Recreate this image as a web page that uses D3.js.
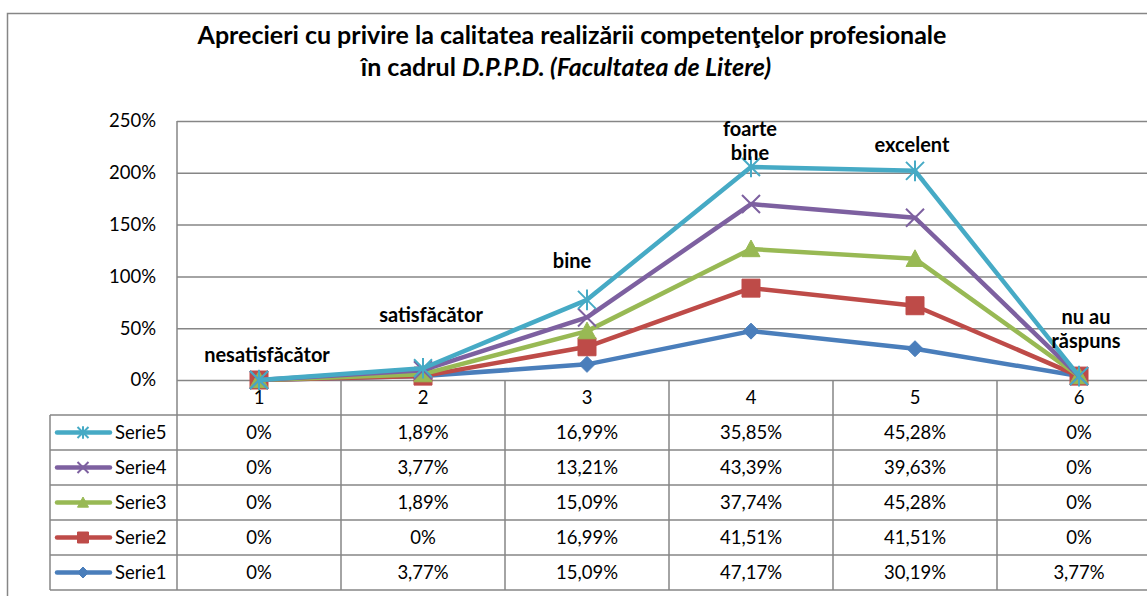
<!DOCTYPE html>
<html lang="ro">
<head>
<meta charset="UTF-8">
<title>Aprecieri cu privire la calitatea realizării competenţelor profesionale</title>
<script src="https://cdn.jsdelivr.net/npm/d3@7"></script>
<style>
    body { margin: 0; background: #fff; }
    svg { display: block; font-family: Lato, "Open Sans", sans-serif; }
    .title { font-size: 25px; font-weight: bold; }
    .tick text { font-size: 18.5px; fill: #000; }
    .cell { font-size: 18.5px; }
    .dlabel { font-size: 20px; font-weight: bold; }
</style>
</head>
<body>
<svg width="1147" height="596"></svg>
<script>
    // categories and data (percent)
    const categories = ["1", "2", "3", "4", "5", "6"];
    const labels = [["nesatisfăcător"], ["satisfăcător"], ["bine"], ["foarte", "bine"], ["excelent"], ["nu au", "răspuns"]];
    const serie1 = [0, 3.77, 15.09, 47.17, 30.19, 3.77];
    const serie2 = [0, 0, 16.99, 41.51, 41.51, 0];
    const serie3 = [0, 1.89, 15.09, 37.74, 45.28, 0];
    const serie4 = [0, 3.77, 13.21, 43.39, 39.63, 0];
    const serie5 = [0, 1.89, 16.99, 35.85, 45.28, 0];
    const seriesNames = ["Serie1", "Serie2", "Serie3", "Serie4", "Serie5"];
    const yTicks = [0, 50, 100, 150, 200, 250];

    const seriesValues = [serie1, serie2, serie3, serie4, serie5];
    const colors = ["#4a7ebb", "#be4b48", "#98b954", "#7d60a0", "#46aac5"];
    const markers = ["diamond", "square", "triangle", "x", "star"];

    // manual placement of the category labels (offsets from top point, last line baseline)
    const labelDx = [8, 8, -15, -1, -3, 7];
    const labelDy = [-18, -46, -32, -7, -19, -28];

    const svg = d3.select("svg");

    const x = d3.scaleBand().domain(categories).range([177, 1161]);
    const y = d3.scaleLinear().domain([0, 250]).range([380, 121]);
    const grid = "#868686";

    // outer chart border
    svg.append("rect").attr("x", 7.5).attr("y", 13.5).attr("width", 1200).attr("height", 700)
        .attr("fill", "none").attr("stroke", grid).attr("stroke-width", 1.5);

    // title
    const title = svg.append("text").attr("class", "title").attr("text-anchor", "middle");
    title.append("tspan").attr("x", 572).attr("y", 44)
        .text("Aprecieri cu privire la calitatea realizării competenţelor profesionale");
    const t2 = title.append("tspan").attr("x", 566).attr("y", 76);
    t2.append("tspan").text("în cadrul ");
    t2.append("tspan").attr("font-style", "italic").text("D.P.P.D. (Facultatea de Litere)");

    // gridlines + y axis
    const yAxis = svg.append("g").attr("transform", "translate(177,0)")
        .call(d3.axisLeft(y).tickValues(yTicks).tickSize(-1000).tickPadding(21)
            .tickFormat(d => d + "%"));
    yAxis.select(".domain").remove();
    yAxis.selectAll(".tick line").attr("stroke", grid).attr("stroke-width", 1.5);
    yAxis.selectAll(".tick text").attr("font-family", "Lato, sans-serif");
    svg.append("line").attr("x1", 177).attr("x2", 177).attr("y1", 121).attr("y2", 590)
        .attr("stroke", grid).attr("stroke-width", 1.5);

    // data table
    const rowH = 35;
    const tableTop = 415;
    const rowsTop = seriesNames.slice().reverse();
    const table = svg.append("g");
    // vertical lines at category boundaries
    categories.forEach(c => {
        table.append("line").attr("x1", x(c) + x.bandwidth()).attr("x2", x(c) + x.bandwidth())
            .attr("y1", 380).attr("y2", tableTop + rowH * 5)
            .attr("stroke", grid).attr("stroke-width", 1.5);
    });
    table.append("line").attr("x1", 50).attr("x2", 50).attr("y1", tableTop).attr("y2", tableTop + rowH * 5)
        .attr("stroke", grid).attr("stroke-width", 1.5);
    d3.range(6).forEach(i => {
        table.append("line").attr("x1", 50).attr("x2", 1161)
            .attr("y1", tableTop + i * rowH).attr("y2", tableTop + i * rowH)
            .attr("stroke", grid).attr("stroke-width", 1.5);
    });
    // category row
    table.selectAll("text.cat").data(categories).join("text").attr("class", "cell cat")
        .attr("x", d => x(d) + x.bandwidth() / 2).attr("y", 404).attr("text-anchor", "middle")
        .text(d => d);

    const fmt = v => v === 0 ? "0%" : v.toFixed(2).replace(".", ",") + "%";

    function markerPath(type, s) {
        const h = s / 2;
        if (type === "diamond") return `M0,${-h}L${h},0L0,${h}L${-h},0Z`;
        if (type === "square") return `M${-h},${-h}H${h}V${h}H${-h}Z`;
        if (type === "triangle") return `M0,${-h}L${h},${h * 0.85}L${-h},${h * 0.85}Z`;
        if (type === "x") return `M${-h},${-h}L${h},${h}M${h},${-h}L${-h},${h}`;
        return `M${-h},${-h}L${h},${h}M${h},${-h}L${-h},${h}M0,${-h * 1.15}V${h * 1.15}`;
    }
    function drawMarker(g, type, color, s) {
        const filled = type !== "x" && type !== "star";
        g.append("path").attr("d", markerPath(type, s))
            .attr("fill", filled ? color : "none")
            .attr("stroke", color).attr("stroke-width", filled ? 1 : 2);
    }

    rowsTop.forEach((name, r) => {
        const si = seriesNames.indexOf(name);
        const cy = tableTop + r * rowH + rowH / 2;
        table.append("line").attr("x1", 57).attr("x2", 110).attr("y1", cy).attr("y2", cy)
            .attr("stroke", colors[si]).attr("stroke-width", 4.5).attr("stroke-linecap", "round");
        drawMarker(table.append("g").attr("transform", `translate(83,${cy})`), markers[si], colors[si], 11);
        table.append("text").attr("class", "cell").attr("x", 115).attr("y", cy + 6.5).text(name);
        categories.forEach((c, j) => {
            table.append("text").attr("class", "cell").attr("text-anchor", "middle")
                .attr("x", x(c) + x.bandwidth() / 2).attr("y", cy + 6.5)
                .text(fmt(seriesValues[si][j]));
        });
    });

    // stacked lines
    const rows = categories.map((c, j) => {
        const o = { cat: c };
        seriesNames.forEach((n, i) => o[n] = seriesValues[i][j]);
        return o;
    });
    const stacked = d3.stack().keys(seriesNames)(rows);
    const line = d3.line().x((d, j) => x(categories[j]) + x.bandwidth() / 2).y(d => y(d[1]));

    stacked.forEach((s, i) => {
        svg.append("path").datum(s).attr("d", line).attr("fill", "none")
            .attr("stroke", colors[i]).attr("stroke-width", 4.5).attr("stroke-linejoin", "round");
        s.forEach((d, j) => {
            const g = svg.append("g")
                .attr("transform", `translate(${x(categories[j]) + x.bandwidth() / 2},${y(d[1])})`);
            drawMarker(g, markers[i], colors[i], markers[i] === "diamond" ? 16 : 18);
        });
    });

    // category labels above top series
    const topSeries = stacked[stacked.length - 1];
    labels.forEach((lines, j) => {
        const cx = x(categories[j]) + x.bandwidth() / 2 + labelDx[j];
        const by = y(topSeries[j][1]) + labelDy[j];
        const t = svg.append("text").attr("class", "dlabel").attr("text-anchor", "middle");
        lines.forEach((l, k) => {
            t.append("tspan").attr("x", cx).attr("y", by - (lines.length - 1 - k) * 24).text(l);
        });
    });
</script>
</body>
</html>
